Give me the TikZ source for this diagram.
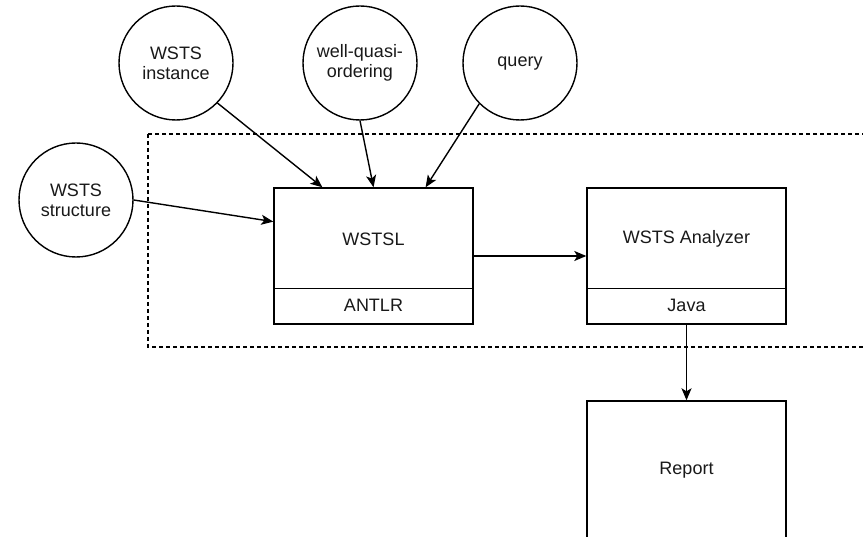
\documentclass[tikz,border=0pt]{standalone}
\usepackage{fontspec}
\setmainfont{Liberation Sans}
\usetikzlibrary{arrows.meta,calc}
\begin{document}
\begin{tikzpicture}[x=1pt,y=-1pt,
  every node/.style={font=\fontsize{18}{20}\selectfont, text=black!90},
  ell/.style={draw, circle, line width=1.4pt, minimum size=114pt, inner sep=0pt, align=center},
  boxnode/.style={draw, rectangle, line width=1.4pt, minimum width=199pt, inner sep=0pt},
  conn/.style={line width=1.4pt, -{Stealth[length=12pt,width=10pt,inset=3pt]}},
  group/.style={line width=1.4pt, dash pattern=on 4pt off 3pt}
]
\useasboundingbox (0,0) rectangle (863,537);
\clip (0,0) rectangle (863,537);
\fill[white] (0,0) rectangle (863,537);

% dashed group
\draw[group] (148,134) rectangle (875,347);

% circles
\node[ell] (inst)   at (176,63)  {WSTS\\instance};
\node[ell] (wqo)    at (360,63)  {well-quasi-\\ordering};
\node[ell] (query)  at (520,63)  {\raisebox{-4pt}[0pt][0pt]{query}};
\node[ell] (struct) at (76,200)  {WSTS\\structure};

% WSTSL box
\node[boxnode, minimum height=136pt] (wstsl) at (373.5,256) {};
\node (wstsltxt) at (373.5,239) {WSTSL};
\coordinate (wdl) at ($(wstsl.north west)!0.735!(wstsl.south west)$);
\coordinate (wdr) at ($(wstsl.north east)!0.735!(wstsl.south east)$);
\draw[line width=1.4pt] (wdl) -- (wdr);
\node (antlr) at (373.5,305) {ANTLR};

% Analyzer box
\node[boxnode, minimum height=136pt] (anal) at (686.5,256) {};
\node (analtxt) at (686.5,239) {WSTS Analyzer};
\coordinate (adl) at ($(anal.north west)!0.735!(anal.south west)$);
\coordinate (adr) at ($(anal.north east)!0.735!(anal.south east)$);
\draw[line width=1.4pt] (adl) -- (adr);
\node (java) at (686.5,305) {Java};

% Report box
\node[boxnode, minimum height=138pt] (report) at (686.5,470) {Report};

% targets on WSTSL
\coordinate (t1) at ($(wstsl.north west)!0.245!(wstsl.north east)$);
\coordinate (t2) at ($(wstsl.north west)!0.5!(wstsl.north east)$);
\coordinate (t3) at ($(wstsl.north west)!0.76!(wstsl.north east)$);
\coordinate (t4) at ($(wstsl.north west)!0.25!(wstsl.south west)$);

% connectors
\draw[conn] (inst.-44) -- (t1);
\draw[conn] (wqo.south) -- (t2);
\draw[conn] (query.-135) -- (t3);
\draw[conn] (struct.east) -- (t4);
\draw[conn] (wstsl) -- (anal);
\draw[conn] (anal.south) -- (report.north);
\end{tikzpicture}
\end{document}
